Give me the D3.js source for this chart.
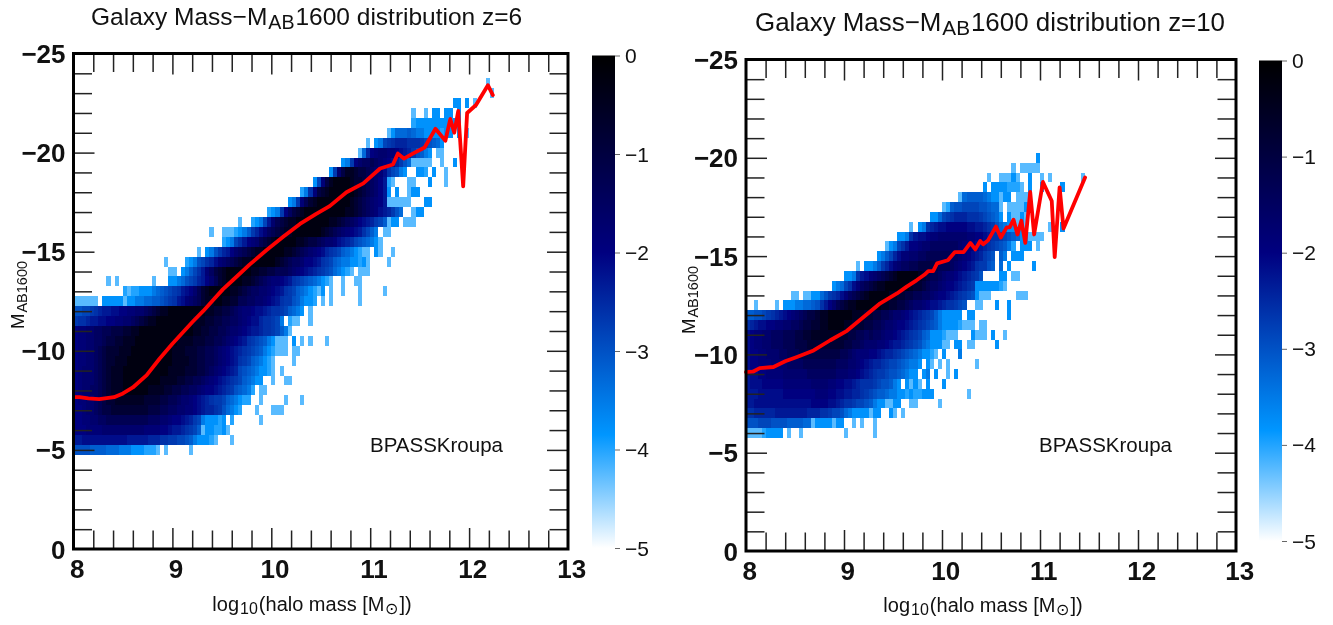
<!DOCTYPE html>
<html><head><meta charset="utf-8">
<script src="https://cdn.jsdelivr.net/npm/d3@7"></script>
<style>html,body{margin:0;padding:0;background:#fff}svg{display:block;filter:blur(0.4px)}text{font-family:"Liberation Sans",Arial,sans-serif;fill:#111}</style>
</head><body><svg id="c" width="1333" height="625"></svg>
<script>
// Each letter in a row is one mass bin, read as the matching entry of cellLevels (a = first entry); '.' = empty bin.
const cellLevels=[-0.25,-0.55,-0.8,-1.05,-1.3,-1.5,-1.7,-1.85,-2.0,-2.15,-2.3,-2.45,-2.6,-2.7,-2.85,-3.0,-3.15,-3.3,-3.5,-3.8,-4.0,-4.25];
const xMajorTicks=[8,9,10,11,12,13];
const yMajorTicks=[0,-5,-10,-15,-20,-25];
const colorbarTicks=[0,-1,-2,-3,-4,-5];
const colorStops=[-5,-3.85,-2,0];
const colorRange=["#ffffff","#0096ff","#000080","#000000"];

const z6Mags=[-5,-5.5,-6,-6.5,-7,-7.5,-8,-8.5,-9,-9.5,-10,-10.5,-11,-11.5,-12,-12.5,-13,-13.5,-14,-14.5,-15,-15.5,-16,-16.5,-17,-17.5,-18,-18.5,-19,-19.5,-20,-20.5,-21,-21.5,-22,-22.5,-23,-23.5];
const z6Starts=[0,0,0,0,0,0,0,0,0,0,0,0,0,0,0,0,12,8,23,22,30,36,33,40,47,52,55,58,62,65,69,71,76,82,82,92,101,100];
const z6Cells=[
"ppppqqqqrrrssstttuuuv.v.....v",
"kkjjjjjjjjjjjkkkkklllmmnnoopqstttuv...v",
"iiihhhhgggggggggghhhhiijkklmnoqvttuutv.",
"iihhggffeeeeeeeeeefffgghiijklnostttut.u......v",
"iihggfeddcccccccccdddeeffgghhijkllmnprstu...v...vvv",
"ihhggfedccbbbbbbbccccddeefgghijklmnnoqrstuu..v.....v...v",
"ihggffedcbbbaaaaaabbbbccddeeffghiijklmnpqrsu.vv",
"ihgggfedcbbbaaaaaaaaabbbbccddeefghijklmnoqrstt..v..vv",
"ihgggfedcbbbaaaaaaaaaaabbbbcccddefghijklopqrsttuv.v",
"ihhggfedccbbbaaaaaaaaaaabbbbccddeefghijkmnoqrstuv....v",
"ihhggfedcccbbbaaaaaaaaaabbbcccddeefghijklmnopqstuvvv.vv",
"ihhggffeddccbbbaaaaaaaaaabbbbcccddeefghijkmnopqstvvv.t.v.v...v",
"ihhggffeedddccbbaaaaaaaaaaaaabbccddeefgghijkklmmnoqsv",
"nmmlkkjjiihhggfedcbbaaaaaaaaabbbccddeeffghijjlmmnos.uvv..v",
"ppoonmlkkjjiihhggfedcbbaaaaaaaaabbccddefghhijjklmmnoqrst.v",
"vvvvvv.tttttvttssrrqqponmkjhgfecbbaabbcceeffgghijkmnnpqsttu.v.v......v",
"uvuutttsrqponmkjigecbaaaaabbcdeffgghijkmnoqrstuvt.v..v...v.....v",
"v.v........v...ttsrponlkigecbaaaabbcdefghhijkmnopqrstuv..v..vv",
"vv.tsqomkhfdcbaaaaaabbccddeeefghijklmnoprstuv.vvv",
"v....utspomljhgfedcbbaaaaaabcdeffgiijkmnoqrssttutv....v",
"v.tspnlkigfedcbbaaaaabbcdefghijlmnoqrstuvv.tv..v",
"utsomkihgedcbaaaaabbcddefgghjklmopqrstv",
"v..vvvutsqnljhfedcbbaaaaaaabcdefghijkmoqs.vv",
"v..utsokgedcbbaaaaaaaabbcdefgijklnoqvtt.vvv",
"utsnifdcbaaaaaaaaaabbcdefghjklnpr..vtt",
"tsnhecbaaaaaaaabcdefghikvvvvvv...tt",
"usmhdcbaaaaaabcdefgikt.t..vtt",
"tohdbaaaabccdefgikuv...vv...t...v",
"tngdbbcddefghjmopst..ttu.t..v",
"tsnigffefghijlnprvvvvv..v..t",
"vrlihgghhijklnpqst.vv",
"v.tsonmlllmmmnopqrt",
"vtrrrqrssttttutt.t.v",
"uttttttttutt",
"v..v.tt.tt.t",
"tt.t.v",
"v",
"v"];
const z6LineX=[8.01,8.06,8.15,8.26,8.41,8.5,8.6,8.74,8.87,9.0,9.1,9.2,9.31,9.41,9.51,9.61,9.78,9.95,10.12,10.29,10.45,10.59,10.76,10.93,11.1,11.23,11.28,11.34,11.43,11.55,11.66,11.76,11.81,11.85,11.89,11.94,11.98,12.07,12.19,12.24];
const z6LineY=[-7.66,-7.66,-7.6,-7.56,-7.66,-7.85,-8.15,-8.77,-9.6,-10.36,-10.9,-11.44,-12.0,-12.55,-13.1,-13.56,-14.35,-15.07,-15.75,-16.4,-16.9,-17.3,-18.0,-18.45,-19.2,-19.4,-19.95,-19.7,-19.95,-20.26,-21.2,-20.6,-21.7,-21.0,-22.1,-18.3,-22.0,-22.4,-23.4,-22.9];

const z10Mags=[-6,-6.5,-7,-7.5,-8,-8.5,-9,-9.5,-10,-10.5,-11,-11.5,-12,-12.5,-13,-13.5,-14,-14.5,-15,-15.5,-16,-16.5,-17,-17.5,-18,-18.5,-19,-19.5,-20];
const z10Starts=[0,0,0,0,0,0,0,0,0,0,0,0,0,0,11,21,24,27,32,34,37,40,45,48,52,58,59,65,71];
const z10Cells=[
"vvvvutttt.v..v..........v......v",
"pppoooppppqqqqrrvttttvtt..v.v..v",
"mmlllllkkkkkkkkl"+"llmmnoopr"+"sttttvtt..tv.v",
"kkjjjjjjjjjjjjjjiiiijjklmmnoopqsttvvtt..vv.....v",
"kkkjjjjjjiiiiiiiihhhiijjkkllmnopqqrssttutuuttt........v",
"kjjjiiiiihhhhhhhgggghhiijjklmmmnoppqst.tvtv.t...t",
"kjjiihhhhggggggfffffffggghhijklmnnoppqrstt.ts.t..v.t",
"jiihhhggggffffeeeeeeeefffgghijkllmnoopqrsst.tv.v.v......v",
"jiihhgggffeeeddddddddddeefghhhiijkllmnopqrsttuv.t...s",
"jihhggfffeeedddcccccccccddeefgg"+"ghhijkklmn"+"oprstttvv.tt.vv.....t",
"jihhggfffeeeddccbbbbbbbccddeefeffghhijklmnoqrtttuvvv...tvvv.t..v",
"mlkjjiihhggffeddccbbaaaabbcccddeefgghiijklmnopqsttttuvvv.vv",
"qqpponmlkjihgfeddcbbaaaaaabbbccddeefgghijklmnoqsttttt.tt........t",
"..v....v.tttssrrqpmkigedcbbaaaaaabbccddefgghijjklmmnop..vv...t..t",
"vv.vvttrpnmljhfedcbaaaaabbccddeeffghiijklmnoptvvv......vvv",
"tsromjhfedcbbaaaaaabccdeffghiijklmnttttttuv",
"ttsmkjhgfedcbaaaaabcdeefghhijklmnp....tt.vv",
"v.ttsqnljhgffeedddddeeefghijkmnnpq.r.t.....t",
"tsqoljhhggffeeeeeeffghijklnop.qs.ttt",
"vtsomkiihggfffffffghhijklmnopqsu.ttt.v",
"ttsmkjjihhggggggghhiijkmmnopqrttvvvv",
"v.tsmlkjjiiiiijjkklmnprsttvtv.....v..t",
"ttronmlllmmmnopqrt.tvvtv",
"vuqppooooppqrrv.vvvvt",
"vrqqqqrsttvtt.vvvt",
"t.ttttuuuv.t..t....t",
"v..vvvtv..t..v.v.......v",
"v.vvvvv",
"t"];
const z10LineX=[8.0,8.07,8.14,8.28,8.4,8.52,8.69,8.86,9.03,9.2,9.37,9.54,9.64,9.74,9.82,9.86,9.91,9.95,10.06,10.13,10.22,10.29,10.34,10.39,10.42,10.47,10.55,10.6,10.66,10.69,10.73,10.77,10.81,10.85,10.9,10.94,11.03,11.12,11.15,11.2,11.24,11.46];
const z10LineY=[-9.1,-9.12,-9.3,-9.36,-9.65,-9.87,-10.2,-10.72,-11.2,-11.9,-12.6,-13.1,-13.45,-13.77,-14.05,-14.24,-14.24,-14.63,-14.79,-15.2,-15.2,-15.67,-15.34,-15.77,-15.6,-15.8,-16.5,-15.95,-16.46,-16.46,-16.85,-16.1,-16.8,-15.67,-18.26,-16.1,-18.77,-17.8,-14.95,-18.5,-16.4,-19.0];

const svg=d3.select("#c");
const colorOf=d3.scaleLinear().domain(colorStops).range(colorRange).clamp(true);
const binsPerDex=24, rowHalf=0.25;
const decode=c=>cellLevels[c.charCodeAt(0)-97];

function rich(sel,parts,subSize){
  let prevSub=false;
  parts.forEach(p=>{
    const isSub=Array.isArray(p), t=sel.append("tspan").text(isSub?p[0]:p);
    if(isSub){t.attr("font-size",subSize).attr("dy",subSize*0.2).attr("dx",1);}
    else if(prevSub){t.attr("dy",-subSize*0.2).attr("dx",1);}
    prevSub=isSub;
  });
}

function panel(o){
  const x=d3.scaleLinear().domain([8,13]).range([o.l,o.r]);
  const y=d3.scaleLinear().domain([0,-25]).range([o.b,o.t]);
  const g=svg.append("g");
  const cells=[];
  o.mags.forEach((m,r)=>{
    Array.from(o.rows[r]).forEach((c,i)=>{
      if(c!=="."){cells.push({m,col:o.starts[r]+i,v:decode(c)});}
    });
  });
  g.append("g").attr("shape-rendering","crispEdges").selectAll("rect").data(cells).join("rect")
    .attr("x",d=>x(8+d.col/binsPerDex))
    .attr("width",d=>x(8+(d.col+1)/binsPerDex)-x(8+d.col/binsPerDex))
    .attr("y",d=>y(d.m-rowHalf))
    .attr("height",d=>y(d.m+rowHalf)-y(d.m-rowHalf))
    .attr("fill",d=>colorOf(d.v));
  const pts=d3.zip(o.lineX,o.lineY);
  g.append("path").datum(pts).attr("fill","none").attr("stroke","#ff0000").attr("stroke-width",3.8)
    .attr("stroke-linejoin","round").attr("stroke-linecap","round")
    .attr("d",d3.line().x(d=>x(d[0])).y(d=>y(d[1])));
  const xMinor=d3.range(8.2,12.9,0.2).map(v=>+v.toFixed(1)).filter(v=>!xMajorTicks.includes(v));
  const yMinor=d3.range(-24,0,1).filter(v=>!yMajorTicks.includes(v));
  const xMajIn=xMajorTicks.slice(1,-1), yMajIn=yMajorTicks.slice(1,-1);
  const ax=(gen,tr,vals,size)=>{
    const a=g.append("g").attr("transform",tr).call(gen.tickValues(vals).tickSize(size).tickFormat(""));
    a.select(".domain").remove();
    a.selectAll("line").attr("stroke","#222").attr("stroke-width",1.5);
  };
  ax(d3.axisBottom(x),`translate(0,${o.b})`,xMinor,-18.5);
  ax(d3.axisBottom(x),`translate(0,${o.b})`,xMajIn,-21);
  ax(d3.axisTop(x),`translate(0,${o.t})`,xMinor,-18.5);
  ax(d3.axisTop(x),`translate(0,${o.t})`,xMajIn,-21);
  ax(d3.axisLeft(y),`translate(${o.l},0)`,yMinor,-18.5);
  ax(d3.axisLeft(y),`translate(${o.l},0)`,yMajIn,-21);
  ax(d3.axisRight(y),`translate(${o.r},0)`,yMinor,-18.5);
  ax(d3.axisRight(y),`translate(${o.r},0)`,yMajIn,-21);
  g.append("rect").attr("x",o.l).attr("y",o.t).attr("width",o.r-o.l).attr("height",o.b-o.t)
    .attr("fill","none").attr("stroke","#000").attr("stroke-width",3);
  const xl=d3.axisBottom(x).tickValues(xMajorTicks).tickSize(0).tickPadding(0).tickFormat(d3.format("d"));
  const gx=g.append("g").attr("transform",`translate(0,${o.b})`).call(xl);
  gx.select(".domain").remove();
  gx.selectAll("text").attr("dy",null).attr("y",28.5).attr("dx",3.2).attr("font-size",26).attr("font-weight","bold").attr("fill","#000")
    .style("font-family",'"Liberation Sans",Arial,sans-serif');
  const yl=d3.axisLeft(y).tickValues(yMajorTicks).tickSize(0).tickPadding(0).tickFormat(d3.format("d"));
  const gy=g.append("g").attr("transform",`translate(${o.l-8},0)`).call(yl);
  gy.select(".domain").remove();
  gy.selectAll("text").attr("dy",9).attr("x",0).attr("font-size",26).attr("font-weight","bold").attr("fill","#000")
    .style("font-family",'"Liberation Sans",Arial,sans-serif');
  rich(g.append("text").attr("x",o.titleX).attr("y",o.titleY).attr("font-size",o.titleSize),
    ["Galaxy Mass\u2212M",["AB"],"1600 distribution z="+o.z],o.titleSize*0.8);
  rich(g.append("text").attr("x",o.xlabX).attr("y",o.xlabY).attr("font-size",20).attr("text-anchor","middle"),
    ["log",["10"],"(halo mass [M",["\u2299"],"])"],16);
  rich(g.append("text").attr("transform",`translate(${o.ylabX},${o.ylabY}) rotate(-90)`).attr("font-size",18.5),
    ["M",["AB1600"]],14.5);
  g.append("text").attr("x",o.noteX).attr("y",o.noteY).attr("font-size",20.5).text("BPASSKroupa");
  const cb=d3.scaleLinear().domain([0,-5]).range([o.cbT,o.cbB]);
  const gid="cbg"+o.z;
  const grad=svg.append("defs").append("linearGradient").attr("id",gid).attr("x1",0).attr("x2",0).attr("y1",0).attr("y2",1);
  colorStops.slice().reverse().forEach(v=>grad.append("stop").attr("offset",v/-5).attr("stop-color",colorOf(v)));
  g.append("rect").attr("x",o.cbL).attr("y",o.cbT).attr("width",o.cbW).attr("height",o.cbB-o.cbT).attr("fill",`url(#${gid})`);
  const cbAx=d3.axisRight(cb).tickValues(colorbarTicks).tickSize(5).tickPadding(5).tickFormat(d3.format("d"));
  const gc=g.append("g").attr("transform",`translate(${o.cbL+o.cbW},0)`).call(cbAx);
  gc.select(".domain").remove();
  gc.selectAll("line").attr("stroke","#666").attr("stroke-width",1);
  gc.selectAll("text").attr("font-size",21).attr("dy",7).attr("fill","#111")
    .style("font-family",'"Liberation Sans",Arial,sans-serif');
}

panel({z:6,l:73.5,r:568,t:53.5,b:549,mags:z6Mags,starts:z6Starts,rows:z6Cells,lineX:z6LineX,lineY:z6LineY,
  titleX:91,titleY:25,titleSize:24.5,xlabX:312,xlabY:611,ylabX:24,ylabY:329,noteX:370,noteY:452,
  cbL:592,cbW:23,cbT:55.5,cbB:548});
panel({z:10,l:746,r:1236,t:59.5,b:551,mags:z10Mags,starts:z10Starts,rows:z10Cells,lineX:z10LineX,lineY:z10LineY,
  titleX:755,titleY:30.5,titleSize:25.9,xlabX:983,xlabY:612,ylabX:695,ylabY:334,noteX:1039,noteY:452,
  cbL:1259,cbW:23,cbT:60.5,cbB:541});
</script></body></html>
